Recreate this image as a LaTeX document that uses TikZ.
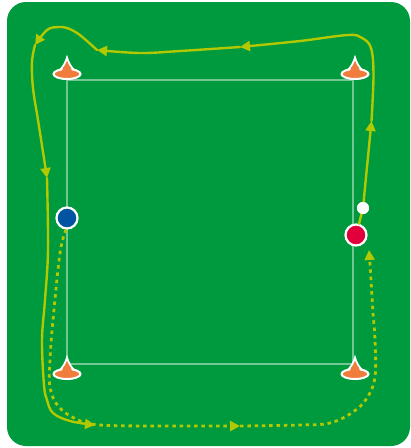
\documentclass[tikz,border=0pt]{standalone}
\usetikzlibrary{arrows.meta}
\definecolor{pitch}{RGB}{0,154,62}
\definecolor{runcol}{RGB}{178,200,0}
\definecolor{conecol}{RGB}{240,125,60}
\definecolor{pblue}{RGB}{0,84,162}
\definecolor{pred}{RGB}{226,0,60}
\begin{document}
\begin{tikzpicture}[x=1pt,y=-1pt,
  fieldline/.style={draw=white,draw opacity=0.45,line width=2.4pt},
  run/.style={draw=runcol,line width=2.4pt,line cap=round},
  dotrun/.style={draw=runcol,line width=2.8pt,dash pattern=on 3.5pt off 3.8pt},
  tip/.style={-{Triangle[length=10pt,width=10pt]}},
  player/.style={circle,draw=white,line width=2.2pt,minimum size=21pt,inner sep=0pt},
  ballnode/.style={circle,fill=white,minimum size=12pt,inner sep=0pt},
  cone/.pic={
    \draw[fill=conecol,draw=white,line width=2pt] (0,0) ellipse[x radius=13.5,y radius=5];
    \fill[conecol] (-7,1) .. controls (-4,-5) and (-1.5,-11) .. (0,-16.5) .. controls (1.5,-11) and (4,-5) .. (7,1) -- cycle;
    \draw[white,line width=1.8pt,line join=miter] (-7.6,-3.6) .. controls (-4,-7) and (-1.5,-11) .. (0,-16.5) .. controls (1.5,-11) and (4,-7) .. (7.6,-3.6);
  }]
\useasboundingbox (0,0) rectangle (411,448);
\fill[white] (0,0) rectangle (411,448);
\fill[pitch,rounded corners=19pt] (7,2) rectangle (410,446);
% field
\draw[fieldline] (67,80) -- (353,80) -- (353,364) -- (67,364) -- cycle;
% players and ball
\node[player,fill=pblue] (blue) at (67,218) {};
\node[player,fill=pred] (red) at (356,235) {};
\node[ballnode] (ball) at (363,208) {};
% waypoints
\coordinate (a1) at (371.5,121);
\coordinate (a2) at (240,47);
\coordinate (a3) at (97,50);
\coordinate (a4) at (35,45);
\coordinate (a5) at (47,178);
\coordinate (a6) at (95,425);
\coordinate (d1) at (240,426);
\coordinate (d2) at (369,250);
% solid run
\draw[run,tip] (red.75) -- (ball.center) -- (a1);
\draw[run,tip] plot[smooth,tension=0.6] coordinates {(a1) (373.5,75) (371,48) (362,38) (348,35) (300,41) (a2)};
\draw[run,tip] plot[smooth,tension=0.6] coordinates {(a2) (180,51) (140,53) (a3)};
\draw[run,tip] plot[smooth,tension=0.6] coordinates {(a3) (87,41) (77,33) (67,28) (58,27) (47,30) (a4)};
\draw[run,tip] plot[smooth,tension=0.6] coordinates {(a4) (32,62) (33,88) (38,120) (43,152) (a5)};
\draw[run,tip] plot[smooth,tension=0.6] coordinates {(a5) (48,250) (45,300) (42,340) (44,385) (47,400) (53,413) (70,421) (a6)};
% dotted run
\draw[dotrun,tip] plot[smooth,tension=0.6] coordinates {(blue.265) (60,253) (53,320) (50,360) (50,387) (58,406) (76,419) (100,425) (170,426) (d1)};
\draw[dotrun,tip] plot[smooth,tension=0.6] coordinates {(d1) (300,425) (330,423) (353,412) (367,398) (375,377) (375,340) (373,313) (371,280) (d2)};
\node[ballnode] at (ball) {};
% cones
\coordinate (c1) at (67,74);
\coordinate (c2) at (355,74);
\coordinate (c3) at (67,374);
\coordinate (c4) at (355,374);
\pic at (c1) {cone};
\pic at (c2) {cone};
\pic at (c3) {cone};
\pic at (c4) {cone};
\end{tikzpicture}
\end{document}
